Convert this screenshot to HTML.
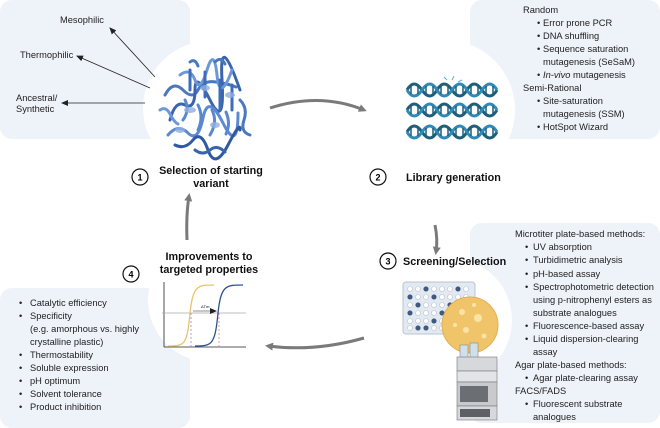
<!DOCTYPE html>
<html><head><meta charset="utf-8"><style>
html,body{margin:0;padding:0;background:#fff;}
svg{display:block;font-family:"Liberation Sans",sans-serif;}
.t{font-size:9.3px;fill:#222;}
.h{font-size:10.8px;font-weight:bold;fill:#111;}
</style></head><body>
<svg width="660" height="428" viewBox="0 0 660 428" xmlns="http://www.w3.org/2000/svg">
<defs>
<marker id="ah" markerWidth="8" markerHeight="8" refX="6" refY="3" orient="auto" markerUnits="userSpaceOnUse"><path d="M0,0 L7,3 L0,6 Z" fill="#222"/></marker>
<marker id="gh" markerWidth="10" markerHeight="10" refX="5" refY="4" orient="auto" markerUnits="userSpaceOnUse"><path d="M0,0 L8,4 L0,8 Z" fill="#7a7a7a"/></marker>
</defs>
<rect x="0" y="0" width="190" height="139" rx="12" fill="#eef2f9"/>
<circle cx="210" cy="108" r="67" fill="#fff"/>
<rect x="470" y="0" width="190" height="139" rx="12" fill="#eef2f9"/>
<circle cx="445" cy="110" r="70" fill="#fff"/>
<rect x="470" y="223" width="190" height="200" rx="12" fill="#eef2f9"/>
<circle cx="450" cy="320" r="62" fill="#fff"/>
<rect x="0" y="288" width="190" height="140" rx="12" fill="#eef2f9"/>
<circle cx="210" cy="300" r="62" fill="#fff"/>

<text class="t" x="60" y="23">Mesophilic</text>
<text class="t" x="20" y="58">Thermophilic</text>
<text class="t" x="16" y="101">Ancestral/</text>
<text class="t" x="16" y="112">Synthetic</text>
<line x1="155" y1="77" x2="110" y2="28" stroke="#222" stroke-width="0.8" marker-end="url(#ah)"/>
<line x1="150" y1="88" x2="77" y2="56" stroke="#222" stroke-width="0.8" marker-end="url(#ah)"/>
<line x1="145" y1="103" x2="62" y2="103" stroke="#222" stroke-width="0.8" marker-end="url(#ah)"/>

<g fill="none" stroke-linecap="round" stroke-width="3">
<path d="M165,95 q8,-15 18,-5 t15,0 t18,-8 t20,5" stroke="#4a78c0"/>
<path d="M170,120 q5,-20 15,-15 t10,-15 t15,10 t12,-20 t18,10" stroke="#3a64ad"/>
<path d="M168,135 q10,-12 20,-2 t15,-15 t20,5 t15,-10" stroke="#5b8ad0"/>
<path d="M175,145 q10,5 18,-5 t15,10 t20,-5 t12,-15" stroke="#2f5aa3"/>
<path d="M180,75 q10,-8 15,5 t12,-10 t10,5 t15,-5" stroke="#6c98d8"/>
<path d="M190,70 v20 M205,72 v25 M220,80 v30 M232,85 v25" stroke="#3e6cb7"/>
<path d="M185,100 q5,10 -2,20 M198,105 q6,12 0,25 M212,110 q6,12 -2,25 M226,112 q5,12 0,22" stroke="#5a88cf"/>
<path d="M240,100 q8,8 4,20 t6,15" stroke="#4a78c0"/>
<path d="M195,150 q8,6 15,0 t15,2" stroke="#3a64ad"/>
<path d="M160,110 q6,-4 10,4 t8,10" stroke="#6c98d8"/>
<path d="M215,62 q6,-6 10,2 M190,62 q5,-4 8,4" stroke="#4a78c0"/>
</g>
<g fill="#8fb0e3" opacity="0.8">
<ellipse cx="190" cy="110" rx="6" ry="3"/><ellipse cx="215" cy="125" rx="5" ry="3"/><ellipse cx="230" cy="95" rx="5" ry="3"/><ellipse cx="205" cy="88" rx="5" ry="3"/><ellipse cx="180" cy="130" rx="5" ry="3"/>
</g>

<circle cx="140" cy="177" r="8" fill="#fff" stroke="#111" stroke-width="1.2"/><text x="140" y="180.5" font-size="9" text-anchor="middle" font-weight="bold">1</text>
<text class="h" x="211" y="174" text-anchor="middle">Selection of starting</text>
<text class="h" x="211" y="187" text-anchor="middle">variant</text>

<circle cx="378" cy="177" r="8" fill="#fff" stroke="#111" stroke-width="1.2"/><text x="378" y="180.5" font-size="9" text-anchor="middle" font-weight="bold">2</text>
<text class="h" x="406" y="181">Library generation</text>

<circle cx="388" cy="261" r="8" fill="#fff" stroke="#111" stroke-width="1.2"/><text x="388" y="264.5" font-size="9" text-anchor="middle" font-weight="bold">3</text>
<text class="h" x="403" y="265">Screening/Selection</text>

<circle cx="131" cy="274" r="8" fill="#fff" stroke="#111" stroke-width="1.2"/><text x="131" y="277.5" font-size="9" text-anchor="middle" font-weight="bold">4</text>
<text class="h" x="209" y="260" text-anchor="middle">Improvements to</text>
<text class="h" x="209" y="273" text-anchor="middle">targeted properties</text>

<g fill="none" stroke="#7a7a7a" stroke-width="3">
<path d="M270,108 Q320,92 364,110" marker-end="url(#gh)"/>
<path d="M435,225 Q438,240 436,252" marker-end="url(#gh)"/>
<path d="M364,338 Q315,352 268,346" marker-end="url(#gh)"/>
<path d="M187,240 Q186,215 189,196" marker-end="url(#gh)"/>
</g>

<g fill="none" stroke-width="3">
<g id="dna">
<path d="M407,90 q7,-12 15,0 t15,0 t15,0 t15,0 t15,0 t15,0" stroke="#1f5f7a"/>
<path d="M407,90 q7,12 15,0 t15,0 t15,0 t15,0 t15,0 t15,0" stroke="#2f8ab5"/>
<path d="M411,86 v8 M418,86 v8 M426,86 v8 M433,86 v8 M441,86 v8 M448,86 v8 M456,86 v8 M463,86 v8 M471,86 v8 M478,86 v8 M486,86 v8 M493,86 v8" stroke="#1f5f7a" stroke-width="1.5"/>
</g>
<use href="#dna" y="20"/><use href="#dna" y="42"/>
<path d="M452,80 l2,-4 M447,80 l-3,-3 M458,82 l4,-2" stroke="#5ab0d8" stroke-width="1"/>
</g>

<g class="t">
<text x="523" y="13">Random</text>
<text x="537" y="26">•</text><text x="543" y="26">Error prone PCR</text>
<text x="537" y="39">•</text><text x="543" y="39">DNA shuffling</text>
<text x="537" y="52">•</text><text x="543" y="52">Sequence saturation</text>
<text x="543" y="65">mutagenesis (SeSaM)</text>
<text x="537" y="78">•</text><text x="543" y="78"><tspan font-style="italic">In-vivo</tspan> mutagenesis</text>
<text x="523" y="91">Semi-Rational</text>
<text x="537" y="104">•</text><text x="543" y="104">Site-saturation</text>
<text x="543" y="117">mutagenesis (SSM)</text>
<text x="537" y="130">•</text><text x="543" y="130">HotSpot Wizard</text>
</g>

<g class="t">
<text x="515" y="237">Microtiter plate-based methods:</text>
<text x="525" y="250">•</text><text x="533" y="250">UV absorption</text>
<text x="525" y="263">•</text><text x="533" y="263">Turbidimetric analysis</text>
<text x="525" y="277">•</text><text x="533" y="277">pH-based assay</text>
<text x="525" y="290">•</text><text x="533" y="290">Spectrophotometric detection</text>
<text x="533" y="303">using p-nitrophenyl esters as</text>
<text x="533" y="316">substrate analogues</text>
<text x="525" y="329">•</text><text x="533" y="329">Fluorescence-based assay</text>
<text x="525" y="342">•</text><text x="533" y="342">Liquid dispersion-clearing</text>
<text x="533" y="355">assay</text>
<text x="515" y="368">Agar plate-based methods:</text>
<text x="525" y="381">•</text><text x="533" y="381">Agar plate-clearing assay</text>
<text x="515" y="394">FACS/FADS</text>
<text x="525" y="407">•</text><text x="533" y="407">Fluorescent substrate</text>
<text x="533" y="420">analogues</text>
</g>

<rect x="403" y="282" width="72" height="52" rx="3" fill="#e3e9f1" stroke="#b8c4d4"/>
<g fill="#fff" stroke="#b9c6d6" stroke-width="0.6">
<circle cx="410" cy="289" r="2.5"/><circle cx="418" cy="289" r="2.5"/><circle cx="426" cy="289" r="2.5"/><circle cx="434" cy="289" r="2.5"/><circle cx="442" cy="289" r="2.5"/><circle cx="450" cy="289" r="2.5"/><circle cx="458" cy="289" r="2.5"/><circle cx="466" cy="289" r="2.5"/>
<circle cx="410" cy="297" r="2.5"/><circle cx="418" cy="297" r="2.5"/><circle cx="426" cy="297" r="2.5"/><circle cx="434" cy="297" r="2.5"/><circle cx="442" cy="297" r="2.5"/><circle cx="450" cy="297" r="2.5"/><circle cx="458" cy="297" r="2.5"/><circle cx="466" cy="297" r="2.5"/>
<circle cx="410" cy="305" r="2.5"/><circle cx="418" cy="305" r="2.5"/><circle cx="426" cy="305" r="2.5"/><circle cx="434" cy="305" r="2.5"/><circle cx="442" cy="305" r="2.5"/><circle cx="450" cy="305" r="2.5"/><circle cx="458" cy="305" r="2.5"/><circle cx="466" cy="305" r="2.5"/>
<circle cx="410" cy="313" r="2.5"/><circle cx="418" cy="313" r="2.5"/><circle cx="426" cy="313" r="2.5"/><circle cx="434" cy="313" r="2.5"/><circle cx="442" cy="313" r="2.5"/><circle cx="450" cy="313" r="2.5"/><circle cx="458" cy="313" r="2.5"/>
<circle cx="410" cy="321" r="2.5"/><circle cx="418" cy="321" r="2.5"/><circle cx="426" cy="321" r="2.5"/><circle cx="434" cy="321" r="2.5"/><circle cx="442" cy="321" r="2.5"/><circle cx="450" cy="321" r="2.5"/>
<circle cx="410" cy="328" r="2.5"/><circle cx="418" cy="328" r="2.5"/><circle cx="426" cy="328" r="2.5"/><circle cx="434" cy="328" r="2.5"/><circle cx="442" cy="328" r="2.5"/>
</g>
<g fill="#3f5a80"><circle cx="426" cy="289" r="2.5"/><circle cx="458" cy="289" r="2.5"/><circle cx="410" cy="297" r="2.5"/><circle cx="434" cy="297" r="2.5"/><circle cx="418" cy="305" r="2.5"/><circle cx="450" cy="305" r="2.5"/><circle cx="410" cy="313" r="2.5"/><circle cx="442" cy="313" r="2.5"/><circle cx="426" cy="328" r="2.5"/><circle cx="418" cy="328" r="2.5"/><circle cx="434" cy="321" r="2.5"/></g>
<circle cx="470" cy="325" r="28" fill="#f0c56a" stroke="#e0b050"/>
<g fill="#fbe3a8"><circle cx="462" cy="312" r="3"/><circle cx="478" cy="318" r="4"/><circle cx="466" cy="330" r="3"/><circle cx="484" cy="336" r="2.5"/><circle cx="455" cy="325" r="2"/><circle cx="474" cy="305" r="2"/></g>
<rect x="460" y="345" width="8" height="13" fill="#cfe0ea" stroke="#888" stroke-width="0.6"/>
<rect x="470" y="343" width="8" height="15" fill="#cfe0ea" stroke="#888" stroke-width="0.6"/>
<rect x="457" y="357" width="40" height="14" fill="#d6d8dc" stroke="#777" stroke-width="0.6"/>
<rect x="457" y="371" width="40" height="11" fill="#e2e4e7" stroke="#777" stroke-width="0.6"/>
<rect x="457" y="382" width="40" height="24" fill="#c8cacd" stroke="#777" stroke-width="0.6"/>
<rect x="460" y="386" width="28" height="16" fill="#6b6e73"/>
<rect x="457" y="406" width="40" height="14" fill="#d6d8dc" stroke="#777" stroke-width="0.6"/>
<rect x="460" y="409" width="30" height="8" fill="#5d6065"/>

<line x1="164" y1="282" x2="164" y2="347" stroke="#222" stroke-width="0.8"/>
<line x1="164" y1="347" x2="246" y2="347" stroke="#222" stroke-width="0.8"/>
<line x1="162" y1="313" x2="246" y2="313" stroke="#aaa" stroke-width="0.8"/>
<path d="M168,346 C185,346 187,345 190,313 C193,285 198,285 214,285" fill="none" stroke="#e8c56a" stroke-width="1.3"/>
<path d="M195,346 C212,346 215,345 218,313 C221,285 226,285 243,285" fill="none" stroke="#2f4f95" stroke-width="1.3"/>
<line x1="191" y1="313" x2="191" y2="347" stroke="#8a8ad0" stroke-width="0.8" stroke-dasharray="2,2"/>
<line x1="219" y1="313" x2="219" y2="347" stroke="#d08a8a" stroke-width="0.8" stroke-dasharray="2,2"/>
<line x1="193" y1="311" x2="216" y2="311" stroke="#222" stroke-width="0.6" marker-end="url(#ah)"/>
<text x="201" y="308" font-size="4">ΔTm</text>

<g class="t">
<text x="19" y="306">•</text><text x="30" y="306">Catalytic efficiency</text>
<text x="19" y="319">•</text><text x="30" y="319">Specificity</text>
<text x="30" y="332">(e.g. amorphous vs. highly</text>
<text x="30" y="345">crystalline plastic)</text>
<text x="19" y="358">•</text><text x="30" y="358">Thermostability</text>
<text x="19" y="371">•</text><text x="30" y="371">Soluble expression</text>
<text x="19" y="384">•</text><text x="30" y="384">pH optimum</text>
<text x="19" y="397">•</text><text x="30" y="397">Solvent tolerance</text>
<text x="19" y="410">•</text><text x="30" y="410">Product inhibition</text>
</g>
</svg>
</body></html>
